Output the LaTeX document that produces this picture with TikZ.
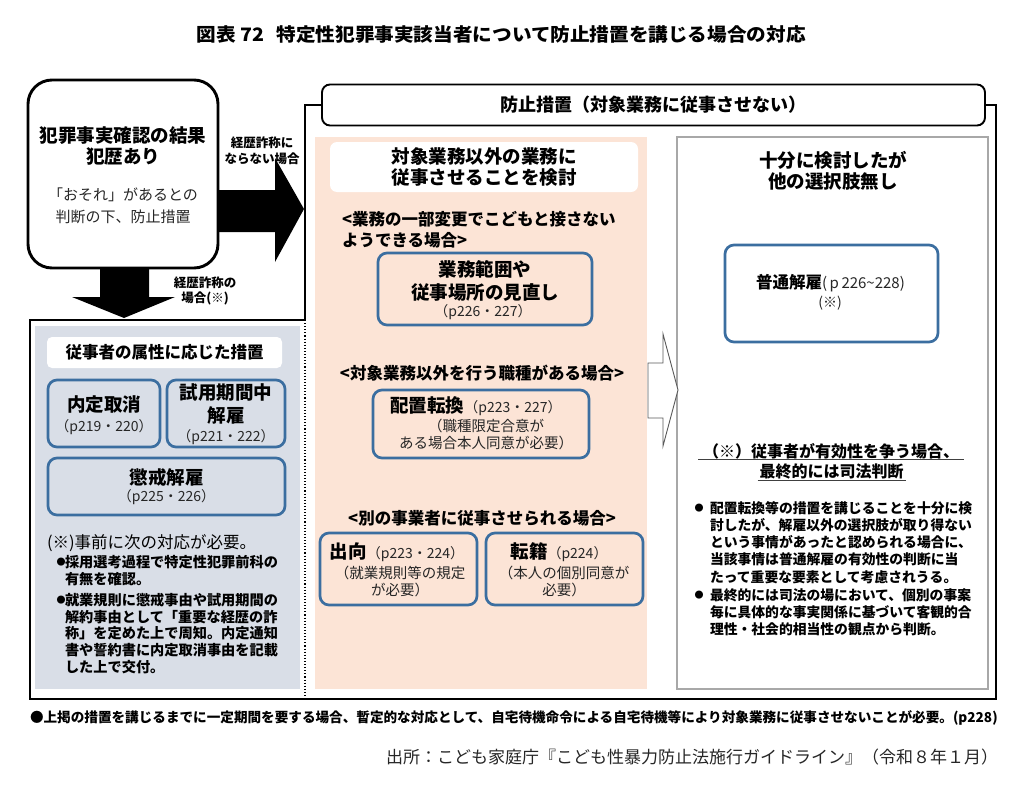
\documentclass[tikz,border=0pt]{standalone}
\usepackage{fontspec}
\setmainfont{Noto Sans CJK JP}
\usepackage{graphicx}
\definecolor{peach}{HTML}{FCE4D6}
\definecolor{panelblue}{HTML}{D9DEE7}
\definecolor{boxblue}{HTML}{3B6EA0}
\definecolor{colgray}{HTML}{A8A8A8}
\newcommand{\fsz}[2]{\fontsize{#1}{#2}\selectfont}
\begin{document}
\begin{tikzpicture}[x=1pt,y=-1pt,
  every node/.style={inner sep=0pt, outer sep=0pt},
  bluebox/.style={draw=boxblue, line width=2.7pt, rounded corners=9pt},
  bigbold/.style={font=\bfseries\fsz{18.5}{21}, align=center},
  pref/.style={font=\fsz{14}{16}, text=black!85},
  small/.style={font=\fsz{14.5}{17}, align=center, text=black!85},
  casehead/.style={font=\bfseries\fsz{16.5}{21}},
  dotb/.style={font=\fsz{9}{10}}]
\useasboundingbox (0,0) rectangle (1024,787);

% title
\node[font=\bfseries\fsz{18.5}{22}] (title) at (501,35) {\scalebox{1.06}[1]{図表 72\hspace{12pt}特定性犯罪事実該当者について防止措置を講じる場合の対応}};

% background areas
\fill[panelblue] (35,326) rectangle (300,689);
\fill[peach] (315,137) rectangle (647,689);
\draw[colgray, line width=1.2pt, fill=white] (677,137) rectangle (988,689);

% outer frame
\draw[line width=1.5pt] (322,105) -- (305,105) -- (305,320) -- (30,320) -- (30,699) -- (996,699) -- (996,105) -- (985,105);
\draw[dotted, line width=1.1pt] (305,323) -- (305,698);

% header
\node[draw, line width=1.9pt, rounded corners=8pt, fill=white, minimum width=663pt, minimum height=41pt, font=\bfseries\fsz{18}{22}] (header) at (653.5,105) {防止措置（対象業務に従事させない）};

% crime box
\node[draw, line width=2.9pt, rounded corners=24pt, minimum width=190pt, minimum height=188pt] (crime) at (123,174) {};
\node[bigbold] (crimeT) at (123,146) {犯罪事実確認の結果\\犯歴あり};
\node[font=\fsz{15}{22}, align=center, text=black!85] (crimeS) at (123,206) {「おそれ」があるとの\\判断の下、防止措置};

% block arrows
\fill (218,190) -- (275,190) -- (275,158) -- (304,209) -- (275,262) -- (275,232) -- (218,232) -- cycle;
\fill (100,267) -- (149,267) -- (149,297) -- (175,297) -- (124,318) -- (72,297) -- (100,297) -- cycle;
\node[font=\bfseries\fsz{12.5}{16}, align=center] (lab1) at (262,151) {経歴詐称に\\ならない場合};
\node[font=\bfseries\fsz{12.5}{15}, align=center] (lab2) at (205,291) {経歴詐称の\\場合(※)};

% middle column
\node[fill=white, rounded corners=7pt, minimum width=308pt, minimum height=50pt, bigbold] (mhead) at (484,167) {対象業務以外の業務に\\従事させることを検討};
\node[casehead, align=left, anchor=west] (case1) at (342,229.5) {<業務の一部変更でこどもと接さない\\ようできる場合>};
\node[bluebox, minimum width=214pt, minimum height=72pt] (b1) at (485,289) {};
\node[font=\bfseries\fsz{18.5}{23}, align=center] (b1t) at (485,280.5) {業務範囲や\\従事場所の見直し};
\node[pref] (b1p) at (483,312) {（p226・227）};

\node[casehead] (case2) at (482,373) {<対象業務以外を行う職種がある場合>};
\node[bluebox, minimum width=216pt, minimum height=68pt] (b2) at (481,424) {};
\node[pref] (b2t) at (476,406) {{\bfseries\fsz{18.5}{20}\color{black}配置転換}（p223・227）};
\node[small] (b2s) at (486,434) {（職種限定合意が\\ある場合本人同意が必要）};

\node[casehead] (case3) at (482,518) {<別の事業者に従事させられる場合>};
\node[bluebox, minimum width=157pt, minimum height=72pt] (b3) at (398.5,569) {};
\node[pref] (b3t) at (397,552) {{\bfseries\fsz{18.5}{20}\color{black}出向}（p223・224）};
\node[small] (b3s) at (400,581) {（就業規則等の規定\\が必要）};
\node[bluebox, minimum width=157pt, minimum height=72pt] (b4) at (564.5,569) {};
\node[pref] (b4t) at (559,552) {{\bfseries\fsz{18.5}{20}\color{black}転籍}（p224）};
\node[small] (b4s) at (564,581) {（本人の個別同意が\\必要）};

% outline arrow
\draw[black!65, line width=0.9pt, fill=white, line join=miter] (648,363) -- (663,363) -- (663,334) -- (678,390) -- (663,446) -- (663,418) -- (648,418) -- cycle;

% right column
\node[bigbold] (rhead) at (833,170.5) {十分に検討したが\\他の選択肢無し};
\node[bluebox, minimum width=213pt, minimum height=97pt] (b5) at (831.5,293.5) {};
\node[font=\fsz{15}{17}, text=black!85] (b5t) at (830.5,283) {{\bfseries\fsz{16.5}{18}\color{black}普通解雇}(\,p\,226\textasciitilde228)};
\node[font=\fsz{14}{16}, text=black!85] (b5s) at (830,303) {(※)};

\node[font=\bfseries\fsz{16}{18}, inner xsep=5pt, inner ysep=0.5pt] (ul1) at (831,451) {（※）従事者が有効性を争う場合、};
\draw[black!75, line width=1.1pt] (ul1.south west) -- (ul1.south east);
\node[font=\bfseries\fsz{16}{18}, inner xsep=2pt, inner ysep=0.5pt] (ul2) at (831.5,472) {最終的には司法判断};
\draw[black!75, line width=1.1pt] (ul2.south west) -- (ul2.south east);

\node[dotb] (rb1) at (699,508) {●};
\node[font=\bfseries\fsz{13.8}{17.2}, align=left, anchor=west] (rt1) at (710,542.4) {配置転換等の措置を講じることを十分に検\\討したが、解雇以外の選択肢が取り得ない\\という事情があったと認められる場合に、\\当該事情は普通解雇の有効性の判断に当\\たって重要な要素として考慮されうる。};
\node[dotb] (rb2) at (699,594.8) {●};
\node[font=\bfseries\fsz{13.8}{17.2}, align=left, anchor=west] (rt2) at (710,612) {最終的には司法の場において、個別の事案\\毎に具体的な事実関係に基づいて客観的合\\理性・社会的相当性の観点から判断。};

% left panel
\node[fill=white, rounded corners=5pt, minimum width=235pt, minimum height=31pt, font=\bfseries\fsz{16.5}{18}] (lhead) at (164.5,352.5) {従事者の属性に応じた措置};
\node[bluebox, minimum width=112pt, minimum height=67pt] (b6) at (104,413.5) {};
\node[bigbold] (b6t) at (104,405) {内定取消};
\node[pref] (b6p) at (104,427) {（p219・220）};
\node[bluebox, minimum width=118pt, minimum height=67pt] (b7) at (226,413.5) {};
\node[font=\bfseries\fsz{18.5}{23}, align=center] (b7t) at (226,403.5) {試用期間中\\解雇};
\node[pref] (b7p) at (226,437) {（p221・222）};
\node[bluebox, minimum width=237pt, minimum height=57pt] (b8) at (166.5,486.5) {};
\node[bigbold] (b8t) at (166.5,477) {懲戒解雇};
\node[pref] (b8p) at (166.5,497) {（p225・226）};

\node[font=\fsz{16.5}{20}, anchor=west] (note) at (47,543) {(※)事前に次の対応が必要。};
\node[dotb] (lb1) at (61,562) {●};
\node[font=\bfseries\fsz{14.2}{17}, align=left, anchor=west] (lt1) at (65,570.5) {採用選考過程で特定性犯罪前科の\\有無を確認。};
\node[dotb] (lb2) at (61,600) {●};
\node[font=\bfseries\fsz{14.2}{16.75}, align=left, anchor=west] (lt2) at (65,633.5) {就業規則に懲戒事由や試用期間の\\解約事由として「重要な経歴の詐\\称」を定めた上で周知。内定通知\\書や誓約書に内定取消事由を記載\\した上で交付。};

% footer
\node[font=\bfseries\fsz{13.6}{16}, anchor=west] (foot) at (30,718) {●上掲の措置を講じるまでに一定期間を要する場合、暫定的な対応として、自宅待機命令による自宅待機等により対象業務に従事させないことが必要。(p228)};
\node[font=\fsz{17}{20}, anchor=east, text=black!85] (src) at (998,757) {出所：こども家庭庁『こども性暴力防止法施行ガイドライン』（令和８年１月）};
\end{tikzpicture}
\end{document}
